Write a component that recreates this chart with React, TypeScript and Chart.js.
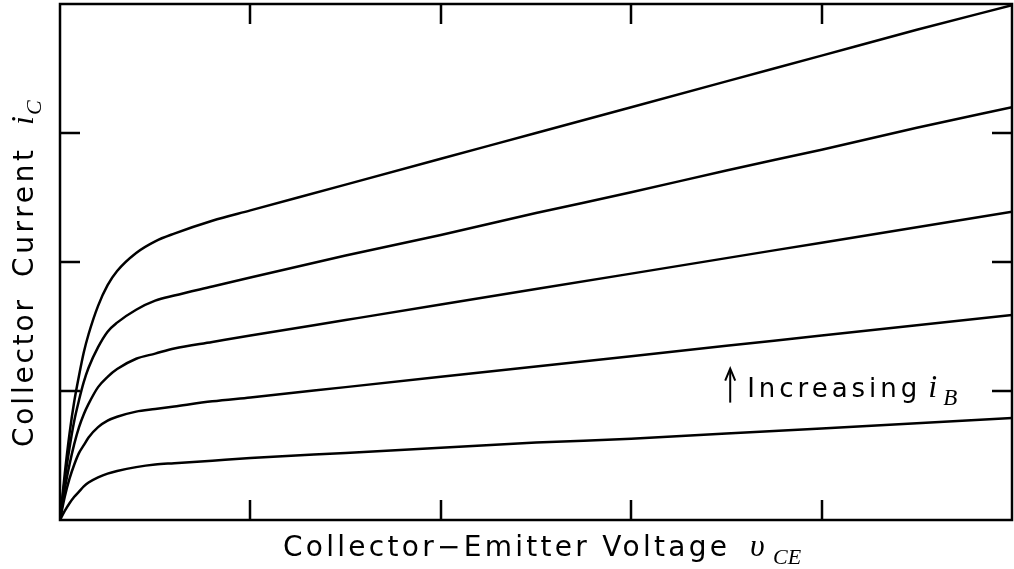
import React, { useEffect, useRef } from "react";
import { Chart, registerables } from "chart.js";

Chart.register(...registerables);

// Collector-emitter voltage (arbitrary units)
const vce = [0, 0.025, 0.05, 0.075, 0.1, 0.125, 0.15, 0.2, 0.25, 0.3, 0.4, 0.5, 0.6, 0.8, 1.0, 1.5, 2, 2.5, 3, 3.5, 4, 4.5, 5];
// Collector current curves, from highest base current to lowest
const ic1 = [0, 0.36, 0.67, 0.92, 1.12, 1.30, 1.44, 1.66, 1.82, 1.93, 2.07, 2.16, 2.22, 2.32, 2.40, 2.60, 2.80, 3.00, 3.20, 3.40, 3.60, 3.80, 3.99];
const ic2 = [0, 0.31, 0.56, 0.77, 0.93, 1.07, 1.18, 1.34, 1.46, 1.53, 1.63, 1.70, 1.74, 1.81, 1.88, 2.05, 2.21, 2.38, 2.54, 2.71, 2.87, 3.04, 3.20];
const ic3 = [0, 0.24, 0.43, 0.59, 0.72, 0.82, 0.90, 1.03, 1.11, 1.17, 1.25, 1.29, 1.33, 1.38, 1.43, 1.55, 1.67, 1.79, 1.91, 2.03, 2.15, 2.27, 2.39];
const ic4 = [0, 0.18, 0.32, 0.43, 0.52, 0.58, 0.64, 0.72, 0.77, 0.80, 0.84, 0.86, 0.88, 0.92, 0.95, 1.03, 1.11, 1.19, 1.27, 1.35, 1.43, 1.51, 1.59];
const ic5 = [0, 0.07, 0.13, 0.18, 0.22, 0.26, 0.29, 0.33, 0.36, 0.38, 0.41, 0.43, 0.44, 0.46, 0.48, 0.52, 0.56, 0.60, 0.63, 0.67, 0.71, 0.75, 0.79];
const curves = [ic1, ic2, ic3, ic4, ic5];

const xMin = 0;
const xMax = 5;
const yMin = 0;
const yMax = 4;
const xTicks = [1, 2, 3, 4];
const yTicks = [1, 2, 3];

const xTitle = "Collector\u2212Emitter Voltage";
const xSym = "\u03c5";
const xSub = "CE";
const yTitleA = "Collector";
const yTitleB = "Current";
const ySym = "i";
const ySub = "C";
const annText = "Increasing";
const annSym = "i";
const annSub = "B";
// annotation anchor in data units (arrow base)
const annX = 3.52;
const annY = 0.91;

const SANS = '"DejaVu Sans", sans-serif';
const SERIF = '"Liberation Serif", "DejaVu Serif", serif';

function fitText(ctx: CanvasRenderingContext2D, text: string, x: number, y: number, width: number) {
  (ctx as any).letterSpacing = "0px";
  const w0 = ctx.measureText(text).width;
  const sp = (width - w0) / Math.max(1, text.length - 1);
  (ctx as any).letterSpacing = sp + "px";
  ctx.fillText(text, x, y);
  (ctx as any).letterSpacing = "0px";
}

const framePlugin = {
  id: "framePlugin",
  afterDraw(chart: any) {
    const ctx: CanvasRenderingContext2D = chart.ctx;
    const { left, right, top, bottom } = chart.chartArea;
    const xs = chart.scales.x;
    const ys = chart.scales.y;
    ctx.save();
    ctx.strokeStyle = "#000";
    ctx.lineWidth = 2.5;
    ctx.lineCap = "butt";
    ctx.strokeRect(left, top, right - left, bottom - top);
    const tl = 20;
    ctx.beginPath();
    for (const t of xTicks) {
      const px = Math.round(xs.getPixelForValue(t));
      ctx.moveTo(px, bottom);
      ctx.lineTo(px, bottom - tl);
      ctx.moveTo(px, top);
      ctx.lineTo(px, top + tl);
    }
    for (const t of yTicks) {
      const py = Math.round(ys.getPixelForValue(t));
      ctx.moveTo(left, py);
      ctx.lineTo(left + tl, py);
      ctx.moveTo(right, py);
      ctx.lineTo(right - tl, py);
    }
    ctx.stroke();

    ctx.fillStyle = "#000";
    ctx.textBaseline = "alphabetic";
    ctx.textAlign = "left";

    // X axis title
    const xb = bottom + 36;
    ctx.font = `28px ${SANS}`;
    fitText(ctx, xTitle, left + 223, xb, 444);
    ctx.font = `italic 32px ${SERIF}`;
    ctx.fillText(xSym, left + 690, xb);
    ctx.font = `italic 22px ${SERIF}`;
    ctx.fillText(xSub, left + 713, xb + 8);

    // Y axis title (rotated)
    ctx.save();
    ctx.translate(33, top + 443);
    ctx.rotate(-Math.PI / 2);
    ctx.font = `28px ${SANS}`;
    fitText(ctx, yTitleA, 0, 0, 147);
    fitText(ctx, yTitleB, 170, 0, 127);
    ctx.font = `italic 32px ${SERIF}`;
    ctx.fillText(ySym, 322, 0);
    ctx.font = `italic 22px ${SERIF}`;
    ctx.fillText(ySub, 332, 8);
    ctx.restore();

    // Annotation arrow + text
    const ax = xs.getPixelForValue(annX);
    const ay = ys.getPixelForValue(annY);
    ctx.lineWidth = 2;
    ctx.beginPath();
    ctx.moveTo(ax, ay);
    ctx.lineTo(ax, ay - 32);
    ctx.stroke();
    ctx.beginPath();
    ctx.moveTo(ax - 5, ay - 22);
    ctx.lineTo(ax, ay - 34);
    ctx.lineTo(ax + 5, ay - 22);
    ctx.stroke();
    ctx.font = `26px ${SANS}`;
    fitText(ctx, annText, ax + 17, ay - 6, 170);
    ctx.font = `italic 32px ${SERIF}`;
    ctx.fillText(annSym, ax + 198, ay - 6);
    ctx.font = `italic 23px ${SERIF}`;
    ctx.fillText(annSub, ax + 213, ay + 2);
    ctx.restore();
  },
};

export default function App() {
  const ref = useRef<HTMLCanvasElement | null>(null);
  useEffect(() => {
    document.body.style.margin = "0";
    const canvas = ref.current;
    if (!canvas) return;
    const chart = new Chart(canvas, {
      type: "line",
      data: {
        datasets: curves.map((c, i) => ({
          label: "iB" + (5 - i),
          data: vce.map((v, k) => ({ x: v, y: c[k] })),
          borderColor: "#000",
          borderWidth: 2.5,
          pointRadius: 0,
          fill: false,
          cubicInterpolationMode: "monotone" as const,
        })),
      },
      options: {
        animation: false,
        responsive: true,
        maintainAspectRatio: false,
        layout: { padding: { left: 60, top: 4, right: 2, bottom: 49 } },
        plugins: { legend: { display: false }, tooltip: { enabled: false }, title: { display: false } },
        scales: {
          x: { type: "linear", min: xMin, max: xMax, display: false },
          y: { type: "linear", min: yMin, max: yMax, display: false },
        },
      },
      plugins: [framePlugin],
    });
    return () => chart.destroy();
  }, []);
  return (
    <div style={{ position: "fixed", left: 0, top: 0, width: 1014, height: 569, background: "#fff" }}>
      <canvas ref={ref} />
    </div>
  );
}
